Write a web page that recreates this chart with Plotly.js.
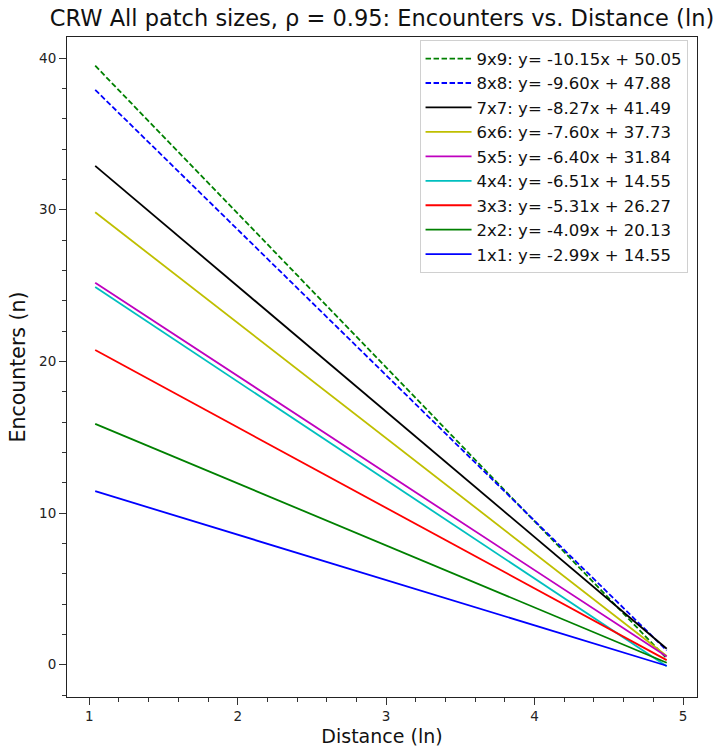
<!DOCTYPE html>
<html>
<head>
<meta charset="utf-8">
<script src="https://cdn.plot.ly/plotly-3.0.1.min.js"></script>
<style>html,body{margin:0;padding:0;background:#fff;}#chart{width:728px;height:750px;}</style>
</head>
<body>
<div id="chart"></div>
<script>
// Data
const distance = [1.04, 4.89];
const names = ["9x9", "8x8", "7x7", "6x6", "5x5", "4x4", "3x3", "2x2", "1x1"];
const fitLabels = [
  "9x9: y= -10.15x + 50.05",
  "8x8: y= -9.60x + 47.88",
  "7x7: y= -8.27x + 41.49",
  "6x6: y= -7.60x + 37.73",
  "5x5: y= -6.40x + 31.84",
  "4x4: y= -6.51x + 14.55",
  "3x3: y= -5.31x + 26.27",
  "2x2: y= -4.09x + 20.13",
  "1x1: y= -2.99x + 14.55"
];
const enc9 = [39.49, 0.42];
const enc8 = [37.90, 0.94];
const enc7 = [32.89, 1.05];
const enc6 = [29.83, 0.57];
const enc5 = [25.18, 0.54];
const enc4 = [24.90, -0.10];
const enc3 = [20.75, 0.30];
const enc2 = [15.88, 0.13];
const enc1 = [11.44, -0.07];
const xTicks = [1, 2, 3, 4, 5];
const yTicks = [0, 10, 20, 30, 40];

const series = [enc9, enc8, enc7, enc6, enc5, enc4, enc3, enc2, enc1];
const colors = ["#008000", "#0000ff", "#000000", "#bfbf00", "#bf00bf", "#00bfbf", "#ff0000", "#008000", "#0000ff"];
const dashes = ["5.5px,2.5px", "5.5px,2.5px", "solid", "solid", "solid", "solid", "solid", "solid", "solid"];

const traces = series.map((ys, i) => ({
  x: distance,
  y: ys,
  type: "scatter",
  mode: "lines",
  name: fitLabels[i],
  line: {color: colors[i], width: 1.8, dash: dashes[i]}
}));

const axisCommon = {
  showline: true,
  linecolor: "#222",
  linewidth: 1,
  mirror: true,
  showgrid: false,
  zeroline: false,
  ticks: "outside",
  ticklen: 7,
  tickwidth: 1,
  tickcolor: "#333",
  tickfont: {family: "DejaVu Sans", size: 13.5, color: "#222"}
};

const layout = {
  width: 728,
  height: 750,
  margin: {l: 67, r: 31, t: 37, b: 53},
  paper_bgcolor: "#fff",
  plot_bgcolor: "#fff",
  font: {family: "DejaVu Sans", color: "#111"},
  title: {
    text: "CRW All patch sizes, ρ = 0.95: Encounters vs. Distance (ln)",
    font: {family: "DejaVu Sans", size: 22.5, color: "#111"},
    x: 0.5, xref: "paper", xanchor: "center",
    y: 0.987, yref: "container", yanchor: "top"
  },
  xaxis: Object.assign({}, axisCommon, {
    range: [0.85, 5.094],
    tickvals: xTicks,
    ticktext: xTicks.map(String),
    minor: {dtick: 0.2, tick0: 0, ticks: "outside", ticklen: 4, tickcolor: "#333", tickwidth: 1},
    title: {text: "Distance (ln)", font: {family: "DejaVu Sans", size: 19, color: "#111"}, standoff: 6}
  }),
  yaxis: Object.assign({}, axisCommon, {
    range: [-2.13, 41.385],
    tickvals: yTicks,
    ticktext: yTicks.map(String),
    minor: {dtick: 2, tick0: 0, ticks: "outside", ticklen: 4, tickcolor: "#333", tickwidth: 1},
    title: {text: "Encounters (n)", font: {family: "DejaVu Sans", size: 20.5, color: "#111"}, standoff: 7}
  }),
  showlegend: true,
  legend: {
    x: 0.985, xanchor: "right",
    y: 0.995, yanchor: "top",
    bgcolor: "rgba(255,255,255,0.85)",
    bordercolor: "#d0d0d0",
    borderwidth: 1,
    font: {family: "DejaVu Sans", size: 16.5, color: "#111"},
    itemwidth: 46,
    traceorder: "normal"
  }
};

Plotly.newPlot("chart", traces, layout, {displayModeBar: false, staticPlot: true});
</script>
</body>
</html>
